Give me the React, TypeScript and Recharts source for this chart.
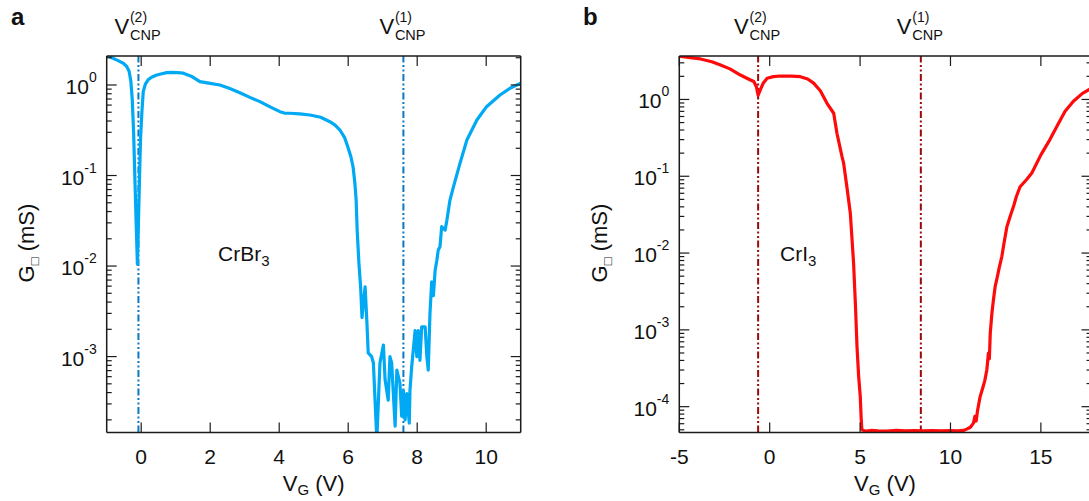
import React from 'react';
import { LineChart, Line, XAxis, YAxis, ReferenceLine } from 'recharts';

const FONT = '"Liberation Sans", Arial, Helvetica, sans-serif';

// ---------- Panel a : CrBr3 ----------
const crbr3V = [
  -1.0, -0.85, -0.7, -0.52, -0.42, -0.35, -0.3, -0.26, -0.22, -0.18, -0.14, -0.11, -0.08, -0.05, -0.02,
  0.02, 0.06, 0.12, 0.2, 0.3, 0.45, 0.6, 0.74, 0.9, 1.05, 1.22, 1.45, 1.7, 2.0, 2.28, 2.55, 2.86, 3.15,
  3.44, 3.75, 4.02, 4.15, 4.31, 4.6, 4.89, 5.2, 5.47, 5.62, 5.76, 5.9, 5.99, 6.08, 6.14, 6.19, 6.23, 6.26,
  6.31, 6.36, 6.4, 6.49, 6.54, 6.58, 6.68, 6.73, 6.83, 6.92, 7.02, 7.07, 7.16, 7.21, 7.26, 7.36, 7.41,
  7.5, 7.55, 7.6, 7.65, 7.7, 7.77, 7.79, 7.84, 7.94, 7.99, 8.03, 8.08, 8.13, 8.23, 8.28, 8.32, 8.37,
  8.42, 8.47, 8.52, 8.57, 8.61, 8.66, 8.71, 8.81, 8.86, 8.95, 9.05, 9.24, 9.44, 9.73, 10.01, 10.4, 10.69, 11.0,
];
const crbr3G = [
  2.14, 2.0, 1.88, 1.74, 1.6, 1.42, 1.1, 0.7, 0.3, 0.085, 0.025, 0.0105, 0.03, 0.09, 0.25,
  0.5, 0.85, 1.02, 1.14, 1.22, 1.29, 1.33, 1.37, 1.38, 1.37, 1.35, 1.25, 1.09, 1.04, 1.0, 0.92, 0.82, 0.73,
  0.655, 0.57, 0.507, 0.49, 0.487, 0.48, 0.466, 0.44, 0.393, 0.36, 0.318, 0.26, 0.207, 0.16, 0.125, 0.085, 0.054, 0.025,
  0.0108, 0.0059, 0.0027, 0.0059, 0.0025, 0.0011, 0.001, 0.00085, 0.00012, 0.00085, 0.00134, 0.00055, 0.00033, 0.001, 0.00085, 0.00017, 0.00071,
  0.00051, 0.00022, 0.00042, 0.0002, 0.00039, 0.000184, 0.00042, 0.00077, 0.00194, 0.001, 0.00194, 0.00091, 0.00213, 0.00213, 0.001, 0.00071, 0.003,
  0.0067, 0.0047, 0.009, 0.0116, 0.015, 0.0163, 0.0272, 0.025, 0.032, 0.0536, 0.075, 0.136, 0.247, 0.41, 0.576, 0.775, 0.92, 1.05,
];
const crbr3Domain = [-1, 11];
const crbr3GDomain = [1.45e-4, 2.09];
const crbr3XTicks = [0, 2, 4, 6, 8, 10];
const crbr3Decades = [1e-4, 1e-3, 1e-2, 1e-1, 1];
const crbr3Cnp = [-0.08, 7.6];
const crbr3Name = 'CrBr';

// ---------- Panel b : CrI3 ----------
const cri3V = [
  -5.0, -4.4, -3.83, -3.2, -2.72, -2.2, -1.62, -1.18, -0.88, -0.73, -0.64, -0.57, -0.51, -0.35, -0.14,
  0.2, 0.59, 1.2, 1.7, 2.1, 2.43, 2.8, 3.17, 3.54, 3.72, 4.0, 4.09, 4.28, 4.46, 4.64, 4.74, 4.83, 4.92,
  5.01, 5.06, 5.1, 5.3, 5.6, 6.0, 6.5, 7.0, 7.5, 8.0, 8.5, 9.0, 9.5, 10.0, 10.4, 10.72, 10.9, 11.1, 11.27,
  11.35, 11.42, 11.5, 11.64, 11.8, 11.9, 12.01, 12.1, 12.15, 12.2, 12.29, 12.38, 12.47, 12.6, 12.7, 12.84,
  12.95, 13.12, 13.3, 13.48, 13.65, 13.85, 14.2, 14.5, 15.0, 15.5, 16.0, 16.34, 16.8, 17.3, 17.8,
];
const cri3G = [
  3.65, 3.5, 3.37, 3.1, 2.81, 2.5, 2.08, 1.85, 1.71, 1.45, 1.14, 1.25, 1.35, 1.64, 1.89,
  1.98, 2.02, 2.01, 1.98, 1.85, 1.63, 1.3, 0.89, 0.661, 0.363, 0.18, 0.148, 0.07, 0.033, 0.0074, 0.0022, 0.0006, 0.00025,
  0.000135, 0.00007, 0.00005, 0.000048, 0.000049, 0.0000485, 0.0000482, 0.000049, 0.0000485, 0.0000488, 0.0000483, 0.0000487, 0.0000484, 0.0000489, 0.0000486, 0.000049, 0.000051, 0.000054, 0.000061,
  0.000075, 0.000065, 0.00009, 0.000135, 0.00018, 0.00022, 0.0003, 0.0005, 0.00042, 0.0009, 0.00164, 0.0025, 0.00365, 0.005, 0.0065, 0.009,
  0.013, 0.022, 0.03, 0.04, 0.055, 0.073, 0.09, 0.11, 0.19, 0.3, 0.5, 0.7, 0.95, 1.2, 1.4,
];
const cri3Domain = [-5, 17.8];
const cri3GDomain = [4.61e-5, 3.68];
const cri3XTicks = [-5, 0, 5, 10, 15];
const cri3Decades = [1e-5, 1e-4, 1e-3, 1e-2, 1e-1, 1];
const cri3Cnp = [-0.64, 8.36];
const cri3Name = 'CrI';

const zip = (xs: number[], ys: number[]) => xs.map((v, i) => ({ v, g: ys[i] }));

const logTicks = (decades: number[], dom: number[]) => {
  const out: number[] = [];
  decades.forEach((d) => {
    for (let k = 1; k <= 9; k++) {
      const t = d * k;
      if (t >= dom[0] * 0.9999 && t <= dom[1] * 1.0001) out.push(t);
    }
  });
  return out;
};

const isMajor = (v: number) => {
  const l = Math.log10(v);
  return Math.abs(l - Math.round(l)) < 1e-6;
};

const AX = '#1a1a1a';

// custom ticks: the axis "width"/"height" is 1px, so the axis line sits 1px off x/y
const LeftYTick = (props: any) => {
  const { x, y, payload } = props;
  const major = isMajor(payload.value);
  const exp = Math.round(Math.log10(payload.value));
  return (
    <g>
      <line x1={x} x2={x + (major ? 10 : 5)} y1={y} y2={y} stroke={AX} strokeWidth={1.2} />
      {major && (
        <text x={x - 10} y={y + 9} textAnchor="end" fontSize={21} fontFamily={FONT} fill="#111">
          10<tspan dy={-12} fontSize={14}>{String(exp)}</tspan>
        </text>
      )}
    </g>
  );
};

const RightYTick = (props: any) => {
  const { x, y, payload } = props;
  const major = isMajor(payload.value);
  return <line x1={x} x2={x - (major ? 10 : 5)} y1={y} y2={y} stroke={AX} strokeWidth={1.2} />;
};

const BottomXTick = (props: any) => {
  const { x, y, payload } = props;
  return (
    <g>
      <line x1={x} x2={x} y1={y} y2={y - 10} stroke={AX} strokeWidth={1.2} />
      <text x={x} y={y + 31} textAnchor="middle" fontSize={21} fontFamily={FONT} fill="#111">
        {String(payload.value)}
      </text>
    </g>
  );
};

const TopXTick = (props: any) => {
  const { x, y } = props;
  return <line x1={x} x2={x} y1={y} y2={y + 10} stroke={AX} strokeWidth={1.2} />;
};

const CnpLabel = (props: any) => {
  const { viewBox, idx } = props;
  const x = viewBox.x;
  return (
    <g fontFamily={FONT} fill="#111">
      <text x={x - 24} y={34} fontSize={22}>V</text>
      <text x={x - 8.5} y={22} fontSize={14}>({idx})</text>
      <text x={x - 8.5} y={39.5} fontSize={14.5}>CNP</text>
    </g>
  );
};

type PanelProps = {
  data: { v: number; g: number }[];
  xDom: number[];
  yDom: number[];
  xTicks: number[];
  decades: number[];
  cnp: number[];
  color: string;
  lineColor: string;
  width: number;
  plotLeft: number;
  plotRight: number;
};

const PLOT_TOP = 56;
const PLOT_BOTTOM = 432.5;
const H = 501;

const Panel = ({ data, xDom, yDom, xTicks, decades, cnp, color, lineColor, width, plotLeft, plotRight }: PanelProps) => {
  const yTicks = logTicks(decades, yDom);
  const margin = {
    top: PLOT_TOP - 1,
    bottom: H - PLOT_BOTTOM - 1,
    left: plotLeft - 1,
    right: width - plotRight - 1,
  };
  return (
    <LineChart width={width} height={H} data={data} margin={margin}>
      <XAxis
        xAxisId="b" dataKey="v" type="number" domain={xDom} allowDataOverflow ticks={xTicks} interval={0}
        height={1} tickSize={0} tickMargin={0} tick={<BottomXTick />} tickLine={false}
        axisLine={{ stroke: AX, strokeWidth: 1.5 }}
      />
      <XAxis
        xAxisId="t" orientation="top" dataKey="v" type="number" domain={xDom} allowDataOverflow ticks={xTicks} interval={0}
        height={1} tickSize={0} tickMargin={0} tick={<TopXTick />} tickLine={false}
        axisLine={{ stroke: AX, strokeWidth: 1.5 }}
      />
      <YAxis
        yAxisId="l" type="number" scale="log" domain={yDom} allowDataOverflow ticks={yTicks} interval={0}
        width={1} tickSize={0} tickMargin={0} tick={<LeftYTick />} tickLine={false}
        axisLine={{ stroke: AX, strokeWidth: 1.5 }}
      />
      <YAxis
        yAxisId="r" orientation="right" type="number" scale="log" domain={yDom} allowDataOverflow ticks={yTicks} interval={0}
        width={1} tickSize={0} tickMargin={0} tick={<RightYTick />} tickLine={false}
        axisLine={{ stroke: AX, strokeWidth: 1.5 }}
      />
      <ReferenceLine xAxisId="b" yAxisId="l" x={cnp[0]} stroke={lineColor} strokeWidth={2} strokeDasharray="7 2.5 2 2.5 2 2.5"
        label={<CnpLabel idx={2} />} />
      <ReferenceLine xAxisId="b" yAxisId="l" x={cnp[1]} stroke={lineColor} strokeWidth={2} strokeDasharray="7 2.5 2 2.5 2 2.5"
        label={<CnpLabel idx={1} />} />
      <Line xAxisId="b" yAxisId="l" dataKey="g" type="linear" stroke={color} strokeWidth={3.2} dot={false}
        isAnimationActive={false} strokeLinejoin="round" />
    </LineChart>
  );
};

const YTitle = ({ x, y }: { x: number; y: number }) => (
  <text x={x} y={y} transform={`rotate(-90 ${x} ${y})`} textAnchor="middle" fontSize={22} fontFamily={FONT} fill="#111">
    G<tspan dy={5} fontSize={13}>□</tspan><tspan dy={-5}> (mS)</tspan>
  </text>
);

const XTitle = ({ x, y }: { x: number; y: number }) => (
  <text x={x} y={y} textAnchor="middle" fontSize={22} fontFamily={FONT} fill="#111">
    V<tspan dy={4} fontSize={15}>G</tspan><tspan dy={-4}> (V)</tspan>
  </text>
);

export default function App() {
  return (
    <div style={{ position: 'absolute', left: 0, top: 0, width: 1089, height: 501, overflow: 'hidden', background: '#fff' }}>
      <div style={{ position: 'absolute', left: 0, top: 0 }}>
        <Panel
          data={zip(crbr3V, crbr3G)} xDom={crbr3Domain} yDom={crbr3GDomain} xTicks={crbr3XTicks}
          decades={crbr3Decades} cnp={crbr3Cnp} color="#00a9f4" lineColor="#0a78c2" width={560}
          plotLeft={106.7} plotRight={520.7}
        />
      </div>
      <div style={{ position: 'absolute', left: 560, top: 0 }}>
        <Panel
          data={zip(cri3V, cri3G)} xDom={cri3Domain} yDom={cri3GDomain} xTicks={cri3XTicks}
          decades={cri3Decades} cnp={cri3Cnp} color="#ff0a0a" lineColor="#9a0a0a" width={600}
          plotLeft={119.3} plotRight={531.5}
        />
      </div>
      <svg width={1089} height={501} style={{ position: 'absolute', left: 0, top: 0, pointerEvents: 'none' }}>
        <text x={11} y={25} fontSize={24} fontWeight="bold" fontFamily={FONT} fill="#111">a</text>
        <text x={583} y={25} fontSize={24} fontWeight="bold" fontFamily={FONT} fill="#111">b</text>
        <YTitle x={34} y={243} />
        <YTitle x={607} y={243} />
        <XTitle x={313.7} y={491} />
        <XTitle x={885} y={491} />
        <text x={218} y={261} fontSize={21} fontFamily={FONT} fill="#111">
          {crbr3Name}<tspan dy={5} fontSize={15}>3</tspan>
        </text>
        <text x={780} y={261} fontSize={21} fontFamily={FONT} fill="#111">
          {cri3Name}<tspan dy={5} fontSize={15}>3</tspan>
        </text>
      </svg>
    </div>
  );
}
